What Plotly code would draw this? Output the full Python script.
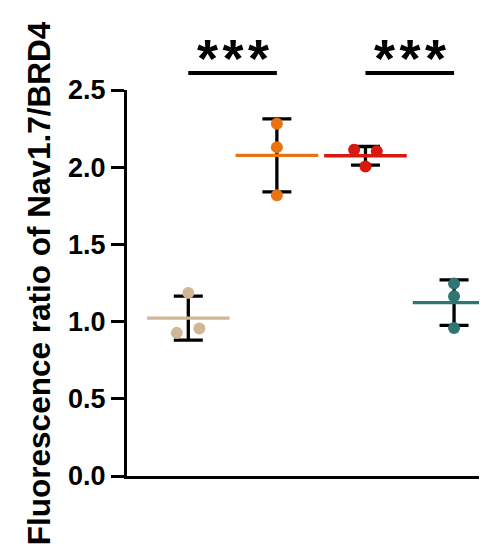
import numpy as np
import plotly.graph_objects as go

groups = ["Group 1", "Group 2", "Group 3", "Group 4"]
colors = ["#D2B796", "#E87411", "#D7190F", "#2F7573"]
values = [
    [1.186, 0.927, 0.955],
    [2.281, 2.130, 1.818],
    [2.113, 2.104, 2.005],
    [1.246, 1.164, 0.959],
]
jitter = [
    [0.0, -0.13, 0.125],
    [0.0, 0.0, 0.0],
    [-0.128, 0.128, 0.0],
    [0.0, 0.0, 0.0],
]
y_ticks = [0.0, 0.5, 1.0, 1.5, 2.0, 2.5]
y_max = 2.5
comparisons = [(0, 1), (2, 3)]
sig_labels = ["*\u200a*\u200a*", "*\u200a*\u200a*"]
sig_bar_y = 2.61
sig_text_y = 2.71

pos = list(range(len(groups)))
means = [float(np.mean(v)) for v in values]
sds = [float(np.std(v, ddof=1)) for v in values]

# page body has an 8px default margin; size the figure to fit the window
W, H = 479, 540

fig = go.Figure()
# error bars (SD)
fig.add_trace(go.Scatter(
    x=pos, y=means, mode="markers",
    marker=dict(size=1, opacity=0),
    error_y=dict(type="data", array=sds, visible=True, color="black",
                 thickness=3.3, width=14.5),
    showlegend=False, hoverinfo="skip"))
# mean lines
for i in pos:
    fig.add_trace(go.Scatter(
        x=[i], y=[means[i]], mode="markers",
        marker=dict(symbol="line-ew", size=59,
                    line=dict(width=3.3, color=colors[i])),
        showlegend=False, hoverinfo="skip"))
# points
for i in pos:
    fig.add_trace(go.Scatter(
        x=[i + j for j in jitter[i]], y=values[i], mode="markers",
        marker=dict(size=12, color=colors[i]),
        showlegend=False, cliponaxis=False))

shapes = []
annotations = []
for (a, b), lab in zip(comparisons, sig_labels):
    shapes.append(dict(type="line", xref="x", yref="paper",
                       x0=a, x1=b, y0=sig_bar_y / y_max, y1=sig_bar_y / y_max,
                       line=dict(color="black", width=4)))
    annotations.append(dict(x=(a + b) / 2, y=sig_text_y / y_max, xref="x", yref="paper",
                            text=lab, showarrow=False, xanchor="center", yanchor="middle",
                            font=dict(family="Liberation Sans", size=54, color="black",
                                      weight="bold")))
annotations.append(dict(x=-0.244, y=0.5, xref="paper", yref="paper",
                        text="Fluorescence ratio of Nav1.7/BRD4", textangle=-90,
                        showarrow=False, xanchor="center", yanchor="middle",
                        font=dict(family="Liberation Sans", size=31.5, color="black",
                                  weight="bold")))

fig.update_layout(
    width=W, height=H,
    margin=dict(l=119, r=0, t=81.5, b=72),
    paper_bgcolor="white", plot_bgcolor="white",
    shapes=shapes, annotations=annotations,
    xaxis=dict(range=[-0.692, 3.372], showline=True, linewidth=3, linecolor="black",
               showticklabels=False, ticks="", showgrid=False, zeroline=False),
    yaxis=dict(range=[0, y_max], tickvals=y_ticks,
               ticktext=[f"{t:.1f}" for t in y_ticks],
               showline=True, linewidth=3, linecolor="black",
               ticks="outside", ticklen=13, tickwidth=3, tickcolor="black",
               tickfont=dict(family="Liberation Sans", size=27, color="black",
                             weight="bold"),
               showgrid=False, zeroline=False),
)
fig.write_html("out.html")
